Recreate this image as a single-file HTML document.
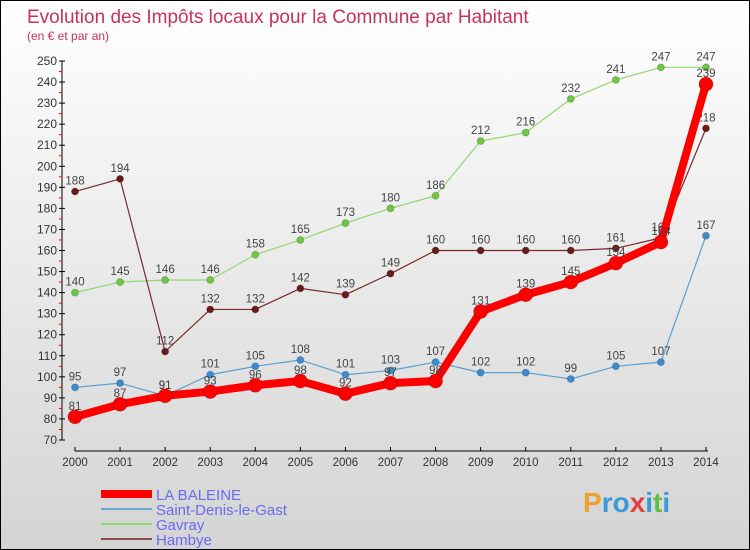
<!DOCTYPE html>
<html><head><meta charset="utf-8"><style>
body{margin:0}
#c{width:748px;height:548px;border:1px solid #000;background:linear-gradient(#fff,#d4d4d4);position:relative;font-family:"Liberation Sans",sans-serif;overflow:hidden}
</style></head><body>
<div id="c">
<svg id="s" width="748" height="548" xmlns="http://www.w3.org/2000/svg">
<text x="26" y="22" font-size="19" fill="#c8325a">Evolution des Impôts locaux pour la Commune par Habitant</text>
<text x="26" y="39" font-size="12" fill="#c8325a">(en € et par an)</text>
</svg>
<div style="position:absolute;left:582px;top:486px;font-size:28px;font-weight:bold;color:#3a9ad9"><span style="color:#f0a030">P</span>ro<span style="color:#e04040">x</span>i<span style="color:#60c040">t</span>i</div>
</div>
<script>
const years=[2000,2001,2002,2003,2004,2005,2006,2007,2008,2009,2010,2011,2012,2013,2014];
const laBaleine=[81,87,91,93,96,98,92,97,98,131,139,145,154,164,239];
const saintDenis=[95,97,91,101,105,108,101,103,107,102,102,99,105,107,167];
const gavray=[140,145,146,146,158,165,173,180,186,212,216,232,241,247,247];
const hambye=[188,194,112,132,132,142,139,149,160,160,160,160,161,166,218];
const yTicks=[70,80,90,100,110,120,130,140,150,160,170,180,190,200,210,220,230,240,250];
const svg=document.getElementById('s');const NS='http://www.w3.org/2000/svg';
const xs=i=>74+i*45.07;const ys=v=>439-(v-70)*(379/180);
function mk(t,a,p){const e=document.createElementNS(NS,t);for(const k in a)e.setAttribute(k,a[k]);(p||svg).appendChild(e);return e;}
const ax=mk('g',{});


mk('line',{x1:61,y1:ys(250),x2:61,y2:ys(70),stroke:'#000'},ax);
mk('line',{x1:74,y1:450,x2:707,y2:450,stroke:'#000'},ax);
yTicks.forEach(v=>{const y=ys(v);mk('line',{x1:58,y1:y,x2:64,y2:y,stroke:'#000'},ax);
if(v<250)mk('line',{x1:58,y1:ys(v+5),x2:61,y2:ys(v+5),stroke:'#f00'},ax);
const t=mk('text',{x:56,y:y+4,'text-anchor':'end','font-size':12,fill:'#333'},ax);t.textContent=v;

});
years.forEach((yr,i)=>{const x=xs(i);mk('line',{x1:x,y1:446,x2:x,y2:450,stroke:'#000'},ax);
const t=mk('text',{x:x,y:465,'text-anchor':'middle','font-size':11.5,fill:'#333'},ax);t.textContent=yr;

});
function series(d,col,w,r,name,dot){const g=mk('g',{});


mk('polyline',{points:d.map((v,i)=>xs(i)+','+ys(v)).join(' '),fill:'none',stroke:col,'stroke-width':w,'stroke-linejoin':'round'},g);
d.forEach((v,i)=>{mk('circle',{cx:xs(i),cy:ys(v),r:r,fill:dot,stroke:'rgba(0,0,0,0.2)'},g);
const t=mk('text',{x:xs(i),y:ys(v)-7,'text-anchor':'middle','font-size':11.5,fill:'#444'},g);t.textContent=v;

});}
series(gavray,'#90d870',1.2,3.5,'series-gavray','#70c840');
series(hambye,'#7a2a2a',1.2,3.5,'series-hambye','#6a1a1a');
series(saintDenis,'#5aa0d0',1.2,3.5,'series-saint-denis','#3a8cd0');
series(laBaleine,'#f00',8,7,'series-la-baleine','#f00');
const leg=[['LA BALEINE','#f00',8],['Saint-Denis-le-Gast','#6aa6d0',2],['Gavray','#90d870',2],['Hambye','#8a4a4a',2]];
leg.forEach((l,i)=>{const y=493+i*15;const g=mk('g',{});


mk('line',{x1:100,y1:y,x2:151,y2:y,stroke:l[1],'stroke-width':l[2]},g);
const t=mk('text',{x:155,y:y+6,'font-size':15,fill:'#6a6af0'},g);t.textContent=l[0];});
</script>
</body></html>
